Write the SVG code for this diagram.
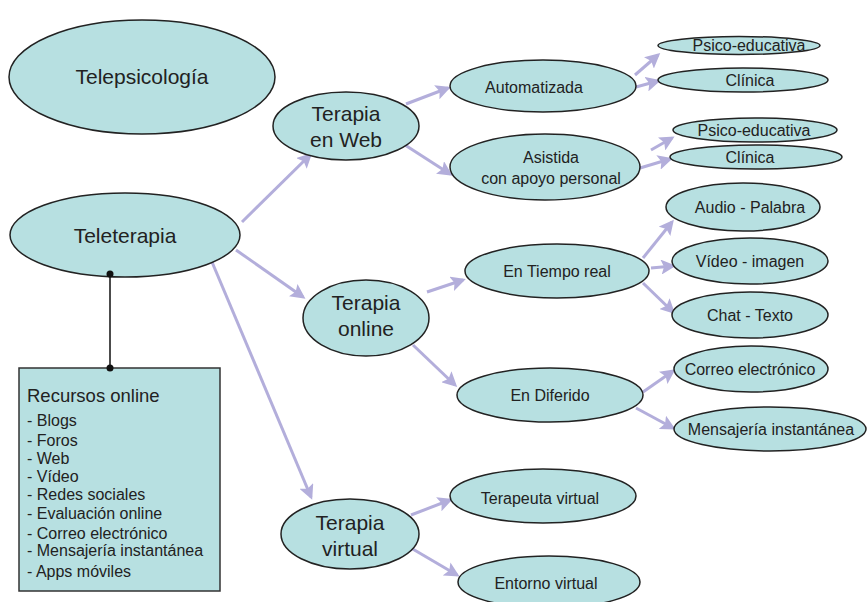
<svg xmlns="http://www.w3.org/2000/svg" width="868" height="602" viewBox="0 0 868 602">
<defs>
<style>
.n{fill:#b7e0e1;stroke:#222;stroke-width:1.5}
.t{font-family:"Liberation Sans",Arial,sans-serif;fill:#222;text-anchor:middle}
.big{font-size:21px}
.sm{font-size:16px}
.c{stroke:#b3aedb;stroke-width:3;fill:none;marker-end:url(#ah)}
.l{font-family:"Liberation Sans",Arial,sans-serif;fill:#222;font-size:16px}
.h{font-family:"Liberation Sans",Arial,sans-serif;fill:#222;font-size:18.5px}
</style>
<marker id="ah" markerWidth="5" markerHeight="5" refX="4" refY="2.5" orient="auto" markerUnits="strokeWidth">
<path d="M0,0 L5,2.5 L0,5 L1,2.5 Z" fill="#b3aedb"/>
</marker>
</defs>
<rect width="868" height="602" fill="#fff"/>
<g id="connectors">
<line class="c" x1="242" y1="222" x2="310" y2="155"/>
<line class="c" x1="236" y1="250" x2="303" y2="297"/>
<line class="c" x1="212" y1="262" x2="311" y2="497"/>
<line class="c" x1="406" y1="104" x2="448" y2="88"/>
<line class="c" x1="405" y1="145" x2="450" y2="174"/>
<line class="c" x1="635" y1="75" x2="658" y2="55"/>
<line class="c" x1="636" y1="87" x2="658" y2="81"/>
<line class="c" x1="651" y1="150" x2="672" y2="138"/>
<line class="c" x1="640" y1="168" x2="670" y2="159"/>
<line class="c" x1="427" y1="292" x2="463" y2="280"/>
<line class="c" x1="413" y1="345" x2="455" y2="385"/>
<line class="c" x1="643" y1="258" x2="672" y2="222"/>
<line class="c" x1="651" y1="268" x2="673" y2="266"/>
<line class="c" x1="643" y1="283" x2="673" y2="312"/>
<line class="c" x1="643" y1="392" x2="673" y2="371"/>
<line class="c" x1="636" y1="408" x2="673" y2="428"/>
<line class="c" x1="411" y1="515" x2="450" y2="500"/>
<line class="c" x1="411" y1="548" x2="457" y2="575"/>
</g>
<g id="telepsicologia"><ellipse class="n" cx="142" cy="77" rx="133" ry="57"/><text class="t big" x="142" y="84">Telepsicología</text></g>
<g id="teleterapia"><ellipse class="n" cx="125" cy="235" rx="115" ry="42"/><text class="t big" x="125" y="243">Teleterapia</text></g>
<g id="terapia-web"><ellipse class="n" cx="346" cy="126" rx="73" ry="34"/><text class="t big" x="346" y="121">Terapia</text><text class="t big" x="346" y="147">en Web</text></g>
<g id="terapia-online"><ellipse class="n" cx="366" cy="318" rx="63" ry="38"/><text class="t big" x="366" y="310">Terapia</text><text class="t big" x="366" y="336">online</text></g>
<g id="terapia-virtual"><ellipse class="n" cx="350" cy="534" rx="69" ry="35"/><text class="t big" x="350" y="530">Terapia</text><text class="t big" x="350" y="556">virtual</text></g>
<g id="automatizada"><ellipse class="n" cx="543" cy="86" rx="93" ry="26"/><text class="t sm" x="534" y="93">Automatizada</text></g>
<g id="asistida"><ellipse class="n" cx="545" cy="167" rx="95" ry="33"/><text class="t sm" x="551" y="163">Asistida</text><text class="t sm" x="551" y="184">con apoyo personal</text></g>
<g id="psico1"><ellipse class="n" cx="739" cy="45.5" rx="81" ry="9"/><text class="t sm" x="749" y="51">Psico-educativa</text></g>
<g id="clinica1"><ellipse class="n" cx="743" cy="80" rx="85" ry="12"/><text class="t sm" x="750" y="86">Clínica</text></g>
<g id="psico2"><ellipse class="n" cx="755" cy="130" rx="82" ry="12"/><text class="t sm" x="754" y="136">Psico-educativa</text></g>
<g id="clinica2"><ellipse class="n" cx="756" cy="157" rx="86" ry="12"/><text class="t sm" x="750" y="163">Clínica</text></g>
<g id="tiempo-real"><ellipse class="n" cx="557" cy="271" rx="92" ry="27"/><text class="t sm" x="557" y="277">En Tiempo real</text></g>
<g id="diferido"><ellipse class="n" cx="550" cy="395" rx="93" ry="27"/><text class="t sm" x="550" y="401">En Diferido</text></g>
<g id="audio"><ellipse class="n" cx="743" cy="207" rx="77" ry="24"/><text class="t sm" x="750" y="213">Audio - Palabra</text></g>
<g id="video"><ellipse class="n" cx="750" cy="261" rx="78" ry="23"/><text class="t sm" x="750" y="267">Vídeo - imagen</text></g>
<g id="chat"><ellipse class="n" cx="750" cy="315" rx="78" ry="23"/><text class="t sm" x="750" y="321">Chat - Texto</text></g>
<g id="correo"><ellipse class="n" cx="751" cy="369" rx="77" ry="23"/><text class="t sm" x="750" y="375">Correo electrónico</text></g>
<g id="mensajeria"><ellipse class="n" cx="770" cy="429" rx="96" ry="22"/><text class="t sm" x="771" y="435">Mensajería instantánea</text></g>
<g id="terapeuta-virtual"><ellipse class="n" cx="543" cy="496" rx="93" ry="27"/><text class="t sm" x="540" y="504">Terapeuta virtual</text></g>
<g id="entorno-virtual"><ellipse class="n" cx="549" cy="582" rx="91" ry="26"/><text class="t sm" x="546" y="589">Entorno virtual</text></g>
<g id="recursos">
<rect x="19" y="368" width="201" height="223" fill="#b7e0e1" stroke="#333" stroke-width="1.5"/>
<text class="h" x="27" y="402">Recursos online</text>
<text class="l" x="27" y="426">- Blogs</text>
<text class="l" x="27" y="446">- Foros</text>
<text class="l" x="27" y="464">- Web</text>
<text class="l" x="27" y="482">- Vídeo</text>
<text class="l" x="27" y="500">- Redes sociales</text>
<text class="l" x="27" y="519">- Evaluación online</text>
<text class="l" x="27" y="539">- Correo electrónico</text>
<text class="l" x="27" y="556">- Mensajería instantánea</text>
<text class="l" x="27" y="577">- Apps móviles</text>
</g>
<g id="link">
<line x1="110" y1="274" x2="110" y2="368" stroke="#111" stroke-width="1.5"/>
<circle cx="110" cy="274" r="3.5" fill="#111"/>
<circle cx="110" cy="368" r="3.5" fill="#111"/>
</g>
</svg>
